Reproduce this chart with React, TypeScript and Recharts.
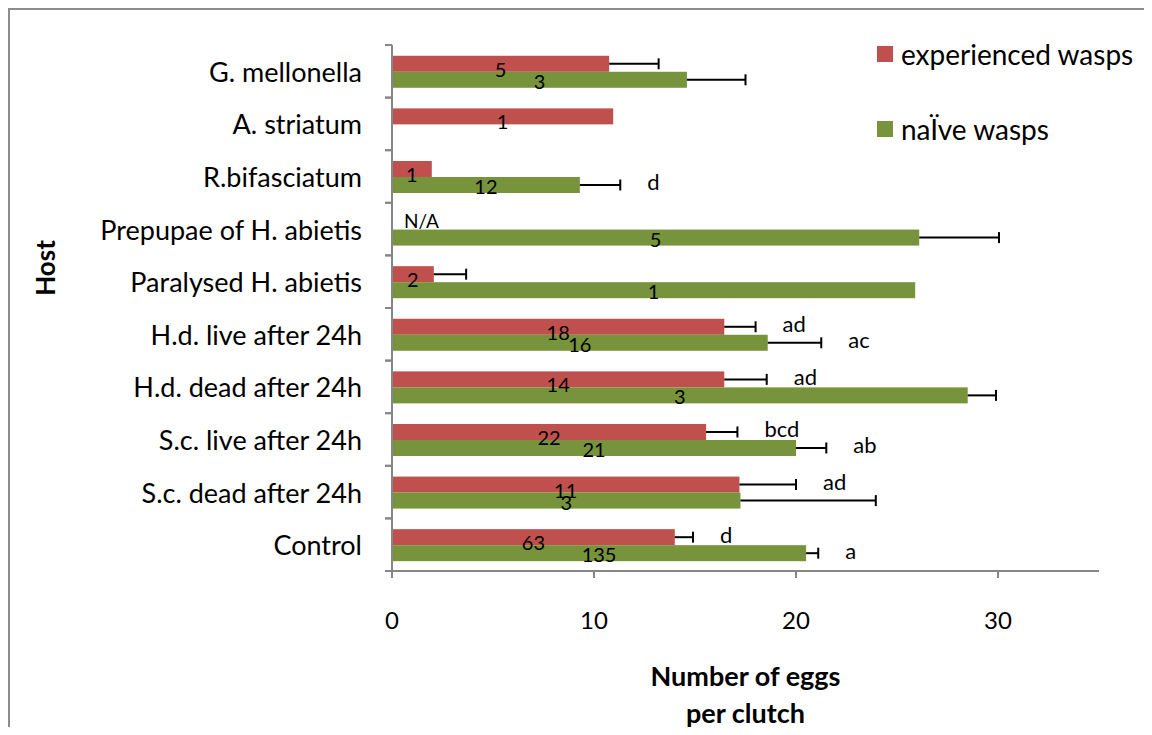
import { BarChart, Bar, XAxis, YAxis, Label } from "recharts"

const hosts = [
  "G. mellonella",
  "A. striatum",
  "R.bifasciatum",
  "Prepupae of H. abietis",
  "Paralysed H. abietis",
  "H.d. live after 24h",
  "H.d. dead after 24h",
  "S.c. live after 24h",
  "S.c. dead after 24h",
  "Control",
]

// mean eggs per clutch, 0 = no data
const experienced = [10.75, 10.95, 1.97, 0, 2.07, 16.45, 16.45, 15.55, 17.2, 14.0]
const experiencedErr = [2.45, 0, 0, 0, 1.6, 1.55, 2.1, 1.55, 2.8, 0.9]
const naive = [14.6, 0, 9.3, 26.1, 25.9, 18.6, 28.5, 20.0, 17.25, 20.5]
const naiveErr = [2.9, 0, 2.0, 3.95, 0, 2.65, 1.4, 1.5, 6.7, 0.6]

// sample sizes shown inside the bars
const experiencedN = ["5", "1", "1", "N/A", "2", "18", "14", "22", "11", "63"]
const naiveN = ["3", "", "12", "5", "1", "16", "3", "21", "3", "135"]

// significance letters
const experiencedSig = ["", "", "", "", "", "ad", "ad", "bcd", "ad", "d"]
const naiveSig = ["", "", "d", "", "", "ac", "", "ab", "", "a"]

const xDomain = [0, 35]
const xTicks = [0, 10, 20, 30]

const data = hosts.map((name, i) => ({
  name,
  exp: experienced[i],
  expErr: experiencedErr[i],
  expN: experiencedN[i],
  expSig: experiencedSig[i],
  nai: naive[i],
  naiErr: naiveErr[i],
  naiN: naiveN[i],
  naiSig: naiveSig[i],
}))

const FONT = "Lato, 'Open Sans', sans-serif"
const RED = "#C0504D"
const GREEN = "#77933C"
const AXIS = "#868686"

const W = 1134
const H = 717
const MARGIN = { top: 35, right: 45, bottom: 0, left: 0 }
const Y_AXIS_W = 382
const X_AXIS_H = 156
const plotH = H - MARGIN.top - MARGIN.bottom - X_AXIS_H
const plotW = W - MARGIN.left - MARGIN.right - Y_AXIS_W
const band = plotH / hosts.length
const perUnit = plotW / (xDomain[1] - xDomain[0])
const TICK_SIZE = 7
const TICK_MARGIN = 23

const ErrLine = ({ x0, x1, cy }: { x0: number; x1: number; cy: number }) => (
  <g stroke="#000" strokeWidth={2}>
    <line x1={x0} x2={x1} y1={cy} y2={cy} />
    <line x1={x1} x2={x1} y1={cy - 5.5} y2={cy + 5.5} />
  </g>
)

const Txt = ({ x, y, size, anchor = "middle", children }: any) => (
  <text x={x} y={y} textAnchor={anchor} dominantBaseline="central" fontFamily={FONT} fontSize={size} fill="#000">
    {children}
  </text>
)

// experienced bars: rectangle + error bar only (texts go on the top layer)
const ExpShape = (props: any) => {
  const { x, y, width, height, fill, payload } = props
  const cy = y + height / 2
  const end = x + width
  return (
    <g>
      {width > 0 && <rect x={x} y={y} width={width} height={height} fill={fill} />}
      {payload.expErr > 0 && <ErrLine x0={end} x1={end + payload.expErr * perUnit} cy={cy} />}
    </g>
  )
}

// naive bars are drawn last, so they also carry every text of the category
const NaiveShape = (props: any) => {
  const { x, y, width, height, fill, payload } = props
  const cy = y + height / 2
  const end = x + width
  const errEnd = end + payload.naiErr * perUnit
  const expCy = cy - height
  const expEnd = x + payload.exp * perUnit
  const expErrEnd = expEnd + payload.expErr * perUnit
  return (
    <g>
      {width > 0 && <rect x={x} y={y} width={width} height={height} fill={fill} />}
      {payload.naiErr > 0 && <ErrLine x0={end} x1={errEnd} cy={cy} />}
      {payload.naiN && (
        <Txt x={x + width / 2} y={cy + 1} size={20}>
          {payload.naiN}
        </Txt>
      )}
      {payload.naiSig && (
        <Txt x={errEnd + 27} y={cy - 3} size={22} anchor="start">
          {payload.naiSig}
        </Txt>
      )}
      {payload.expN &&
        (payload.exp > 0 ? (
          <Txt x={x + (payload.exp * perUnit) / 2} y={expCy + 5} size={20}>
            {payload.expN}
          </Txt>
        ) : (
          <Txt x={x + 12} y={expCy - 1} size={19} anchor="start">
            {payload.expN}
          </Txt>
        ))}
      {payload.expSig && (
        <Txt x={expErrEnd + 27} y={expCy - 3} size={22} anchor="start">
          {payload.expSig}
        </Txt>
      )}
    </g>
  )
}

const HostTick = (props: any) => {
  const { x, y, payload } = props
  const axisX = x + TICK_SIZE + TICK_MARGIN
  return (
    <g>
      <text x={x} y={y} textAnchor="end" dominantBaseline="central" fontFamily={FONT} fontSize={27} fill="#000">
        {payload.value}
      </text>
      <g stroke={AXIS} strokeWidth={2}>
        <line x1={axisX - TICK_SIZE} x2={axisX} y1={y - band / 2} y2={y - band / 2} />
        <line x1={axisX - TICK_SIZE} x2={axisX} y1={y + band / 2} y2={y + band / 2} />
      </g>
    </g>
  )
}

const legendItems = [
  { label: "experienced wasps", color: RED },
  { label: "naÏve wasps", color: GREEN },
]

export default function App() {
  return (
    <div
      style={{
        position: "relative",
        width: W,
        height: H,
        borderLeft: "2px solid #8c8c8c",
        borderTop: "2px solid #8c8c8c",
        background: "#fff",
      }}
    >
      <BarChart
        width={W}
        height={H}
        data={data}
        layout="vertical"
        margin={MARGIN}
        barCategoryGap="20.5%"
        barGap={0}
      >
        <XAxis
          type="number"
          domain={xDomain}
          ticks={xTicks}
          height={X_AXIS_H}
          axisLine={{ stroke: AXIS, strokeWidth: 2 }}
          tickLine={{ stroke: AXIS, strokeWidth: 2 }}
          tickSize={7}
          tickMargin={34}
          tick={{ fontFamily: FONT, fontSize: 24, fill: "#000" }}
        >
          <Label
            content={(p: any) => {
              const vb = p.viewBox
              const cx = vb.x + vb.width / 2
              return (
                <g fontFamily={FONT} fontSize={27} fontWeight="bold" fill="#000" textAnchor="middle">
                  <text x={cx} y={vb.y + 104} dominantBaseline="central">
                    Number of eggs
                  </text>
                  <text x={cx} y={vb.y + 141} dominantBaseline="central">
                    per clutch
                  </text>
                </g>
              )
            }}
          />
        </XAxis>
        <YAxis
          type="category"
          dataKey="name"
          width={Y_AXIS_W}
          axisLine={{ stroke: AXIS, strokeWidth: 2 }}
          tickLine={false}
          tickSize={TICK_SIZE}
          tickMargin={TICK_MARGIN}
          tick={<HostTick />}
          interval={0}
        >
          <Label
            content={(p: any) => {
              const vb = p.viewBox
              const lx = vb.x + 35
              const ly = vb.y + vb.height / 2 - 40
              return (
                <text
                  x={lx}
                  y={ly}
                  transform={`rotate(-90 ${lx} ${ly})`}
                  textAnchor="middle"
                  dominantBaseline="central"
                  fontFamily={FONT}
                  fontSize={26}
                  fontWeight="bold"
                  fill="#000"
                >
                  Host
                </text>
              )
            }}
          />
        </YAxis>
        <Bar dataKey="exp" fill={RED} isAnimationActive={false} shape={<ExpShape />} />
        <Bar dataKey="nai" fill={GREEN} isAnimationActive={false} shape={<NaiveShape />} />
      </BarChart>
      <div style={{ position: "absolute", left: 867, top: 36, fontFamily: FONT, fontSize: 28, color: "#000" }}>
        {legendItems.map((it, i) => (
          <div key={it.label} style={{ display: "flex", alignItems: "center", height: 16, marginBottom: i === 0 ? 59 : 0 }}>
            <span style={{ display: "inline-block", width: 16, height: 16, background: it.color, marginRight: 8 }} />
            <span style={{ whiteSpace: "nowrap", lineHeight: "16px" }}>{it.label}</span>
          </div>
        ))}
      </div>
    </div>
  )
}
